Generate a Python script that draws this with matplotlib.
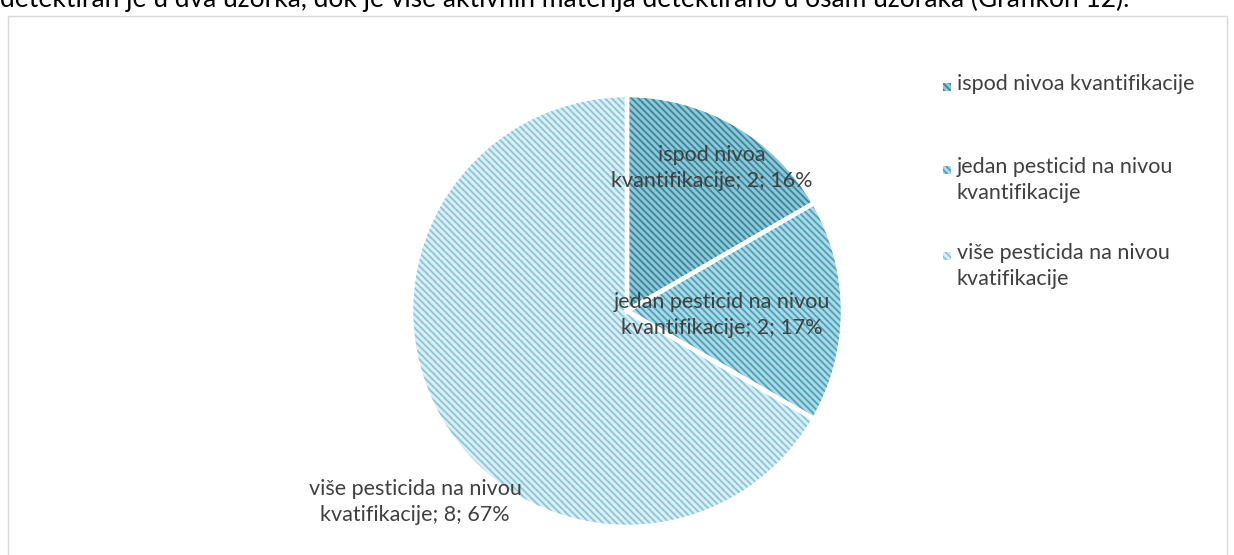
import matplotlib
matplotlib.use("Agg")
import matplotlib.pyplot as plt
from matplotlib.patches import Rectangle

categories = ["ispod nivoa kvantifikacije",
              "jedan pesticid na nivou kvantifikacije",
              "više pesticida na nivou kvatifikacije"]
label_names = ["ispod nivoa\nkvantifikacije", "jedan pesticid na nivou\nkvantifikacije",
               "više pesticida na nivou\nkvatifikacije"]
legend_names = ["ispod nivoa kvantifikacije", "jedan pesticid na nivou\nkvantifikacije",
                "više pesticida na nivou\nkvatifikacije"]
counts = [2, 2, 8]
percents = [16, 17, 67]

bg_colors = ["#8fc7d5", "#acd9e4", "#dbeef4"]
stripe_colors = ["#37879e", "#4aa3bb", "#89c6d8"]

W, H = 1234, 555
plt.rcParams['hatch.linewidth'] = 1.3
plt.rcParams['font.family'] = ['Lato', 'DejaVu Sans']

fig = plt.figure(figsize=(W / 100, H / 100), dpi=100)
ax = fig.add_axes([0, 0, 1, 1])

def px(x, y):
    return x, H - y

HATCH = '\\' * 5

cx, cy = px(627, 311)
R = 214
wedges, _ = ax.pie(counts, startangle=90, counterclock=False, center=(cx, cy), radius=R,
                   colors=bg_colors, wedgeprops=dict(linewidth=0), frame=True)
for w, sc in zip(wedges, stripe_colors):
    w.set_edgecolor(sc)
    w.set_hatch(HATCH)
    w.set_linewidth(0)
sep, _ = ax.pie(counts, startangle=90, counterclock=False, center=(cx, cy), radius=R + 2,
                colors=['none'] * 3, wedgeprops=dict(linewidth=3.2, edgecolor='white', fill=False), frame=True)
ax.set_xlim(0, W)
ax.set_ylim(0, H)
ax.set_aspect('equal')
ax.axis('off')

# chart border
ax.add_patch(Rectangle(px(8, 600), 1219, 584, fill=False, edgecolor="#d9d9d9", lw=1))

# body text above (clipped at the top edge, as in the reference)
ax.text(*px(0, 7), "detektiran je u dva uzorka, dok je više aktivnih materija detektirano u osam uzoraka (Grafikon 12).",
        fontsize=19, color="#000000", va='baseline', ha='left')

# data labels
label_pos = [(712, 168), (722, 315), (415, 502)]
for (x, y), name, c, p in zip(label_pos, label_names, counts, percents):
    ax.text(*px(x, y), f"{name}; {c}; {p}%", ha='center', va='center', fontsize=15.5,
            color="#404040", linespacing=1.35)

# legend
leg_pos = [87, 170, 256]
for y, name, bc, sc in zip(leg_pos, legend_names, bg_colors, stripe_colors):
    ax.add_patch(Rectangle(px(943, y + 4), 8, 8, facecolor=bc, edgecolor=sc, hatch=HATCH, lw=0))
    ax.text(*px(957, y - 13), name, ha='left', va='top', fontsize=15.5, color="#404040", linespacing=1.35)

fig.savefig("out.png", dpi=100)
